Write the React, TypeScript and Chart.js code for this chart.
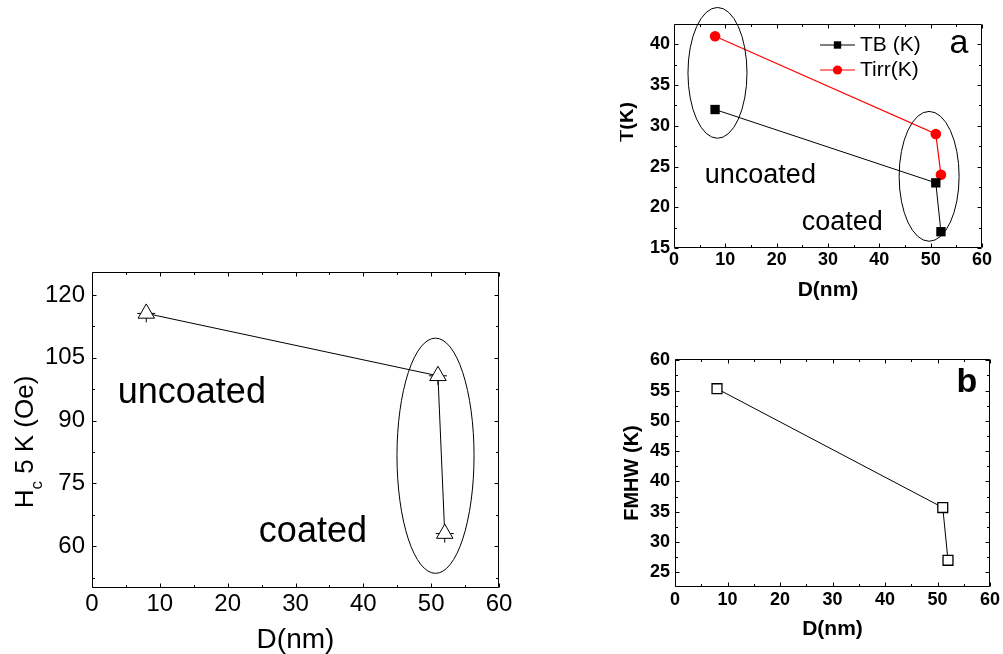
import React, { useEffect, useRef } from 'react';
import { Chart, registerables } from 'chart.js';

Chart.register(...registerables);

const FONT = '"Liberation Sans", Arial, Helvetica, sans-serif';

// ---- data ----
const diameters = [8, 51, 52];
const hcValues = [115.6, 100.7, 63];
const tbValues = [32, 23, 17];
const tirrValues = [41, 29, 24];
const fmhwValues = [55.3, 35.7, 27];

// ---- tick labels ----
const dTicks = [0, 10, 20, 30, 40, 50, 60];
const hcTicks = [60, 75, 90, 105, 120];
const tTicks = [15, 20, 25, 30, 35, 40];
const fmhwTicks = [25, 30, 35, 40, 45, 50, 55, 60];

const pts = (ys: number[]) => diameters.map((x, i) => ({ x, y: ys[i] }));

function minorsOf(ticks: number[], min: number, max: number) {
  const step = ticks[1] - ticks[0];
  const out: number[] = [ticks[0] - step / 2];
  for (let i = 0; i < ticks.length - 1; i++) out.push((ticks[i] + ticks[i + 1]) / 2);
  out.push(ticks[ticks.length - 1] + step / 2);
  return out.filter((v) => v > min && v < max);
}

type Ell = { cx: number; cy: number; rx: number; ry: number };
type Lbl = { text: string; x: number; y: number; font: string; align?: CanvasTextAlign };
type Part = { text: string; font: string; dy: number };
type Deco = {
  xMajor: number[];
  yMajor: number[];
  xMinor: number[];
  yMinor: number[];
  ellipses?: Ell[];
  labels?: Lbl[];
  legend?: { dx: number; dy: number; row: number; lineLen: number; textGap: number; font: string };
  yTitle?: { parts: Part[]; baseX: number; centerY: number };
};

function makeDeco(d: Deco) {
  return {
    id: 'deco',
    afterDatasetsDraw(chart: any) {
      const ctx: CanvasRenderingContext2D = chart.ctx;
      const { left, right, top, bottom } = chart.chartArea;
      const xs = chart.scales.x;
      const ys = chart.scales.y;
      ctx.save();
      ctx.strokeStyle = '#000';
      ctx.fillStyle = '#000';
      ctx.lineWidth = 1;
      // ellipses
      (d.ellipses || []).forEach((e) => {
        const cx = xs.getPixelForValue(e.cx);
        const cy = ys.getPixelForValue(e.cy);
        const rx = Math.abs(xs.getPixelForValue(e.cx + e.rx) - cx);
        const ry = Math.abs(ys.getPixelForValue(e.cy + e.ry) - cy);
        ctx.beginPath();
        ctx.ellipse(cx, cy, rx, ry, 0, 0, Math.PI * 2);
        ctx.stroke();
      });
      // labels
      (d.labels || []).forEach((l) => {
        ctx.font = l.font;
        ctx.textAlign = l.align || 'left';
        ctx.textBaseline = 'alphabetic';
        ctx.fillText(l.text, xs.getPixelForValue(l.x), ys.getPixelForValue(l.y));
      });
      // legend
      if (d.legend) {
        const lg = d.legend;
        chart.data.datasets.forEach((ds: any, i: number) => {
          const y = top + lg.dy + i * lg.row;
          const x0 = left + lg.dx;
          ctx.strokeStyle = ds.borderColor;
          ctx.lineWidth = ds.borderWidth || 1;
          ctx.beginPath();
          ctx.moveTo(x0, y);
          ctx.lineTo(x0 + lg.lineLen, y);
          ctx.stroke();
          const mx = x0 + lg.lineLen / 2;
          ctx.fillStyle = ds.pointBackgroundColor;
          ctx.beginPath();
          if (ds.pointStyle === 'rect') {
            const s = 3.7;
            ctx.rect(mx - s, y - s, 2 * s, 2 * s);
          } else {
            ctx.arc(mx, y, 4.6, 0, Math.PI * 2);
          }
          ctx.fill();
          ctx.fillStyle = '#000';
          ctx.font = lg.font;
          ctx.textAlign = 'left';
          ctx.textBaseline = 'middle';
          ctx.fillText(ds.label, x0 + lg.textGap, y);
        });
      }
      // frame + inward ticks
      ctx.strokeStyle = '#000';
      ctx.lineWidth = 1;
      const L = Math.round(left) + 0.5;
      const R = Math.round(right) - 0.5;
      const T = Math.round(top) + 0.5;
      const B = Math.round(bottom) - 0.5;
      ctx.beginPath();
      ctx.rect(L, T, R - L, B - T);
      ctx.stroke();
      const tick = (vals: number[], len: number) => {
        ctx.beginPath();
        vals.forEach((v) => {
          const p = Math.round(xs.getPixelForValue(v)) + 0.5;
          ctx.moveTo(p, B);
          ctx.lineTo(p, B - len);
          ctx.moveTo(p, T);
          ctx.lineTo(p, T + len);
        });
        ctx.stroke();
      };
      const tickY = (vals: number[], len: number) => {
        ctx.beginPath();
        vals.forEach((v) => {
          const p = Math.round(ys.getPixelForValue(v)) + 0.5;
          ctx.moveTo(L, p);
          ctx.lineTo(L + len, p);
          ctx.moveTo(R, p);
          ctx.lineTo(R - len, p);
        });
        ctx.stroke();
      };
      tick(d.xMajor, 4);
      tick(d.xMinor, 2.5);
      tickY(d.yMajor, 4);
      tickY(d.yMinor, 2.5);
      // rotated y title with parts (subscript)
      if (d.yTitle) {
        const yt = d.yTitle;
        ctx.fillStyle = '#000';
        ctx.textBaseline = 'alphabetic';
        ctx.textAlign = 'left';
        let total = 0;
        yt.parts.forEach((p) => {
          ctx.font = p.font;
          total += ctx.measureText(p.text).width;
        });
        ctx.translate(yt.baseX, yt.centerY);
        ctx.rotate(-Math.PI / 2);
        let x = -total / 2;
        yt.parts.forEach((p) => {
          ctx.font = p.font;
          ctx.fillText(p.text, x, p.dy);
          x += ctx.measureText(p.text).width;
        });
      }
      ctx.restore();
    },
  };
}

type AxisCfg = {
  min: number;
  max: number;
  ticks: number[];
  size: number;
  font: any;
  pad: number;
  title?: any;
};

function makeScales(x: AxisCfg, y: AxisCfg) {
  return {
    x: {
      type: 'linear',
      min: x.min,
      max: x.max,
      afterBuildTicks: (s: any) => {
        s.ticks = x.ticks.map((v) => ({ value: v }));
      },
      afterFit: (s: any) => {
        s.height = x.size;
      },
      grid: { display: false, drawTicks: false },
      border: { display: false },
      ticks: { color: '#000', font: x.font, padding: x.pad, autoSkip: false, maxRotation: 0 },
      title: x.title || { display: false },
    },
    y: {
      type: 'linear',
      min: y.min,
      max: y.max,
      afterBuildTicks: (s: any) => {
        s.ticks = y.ticks.map((v) => ({ value: v }));
      },
      afterFit: (s: any) => {
        s.width = y.size;
      },
      grid: { display: false, drawTicks: false },
      border: { display: false },
      ticks: { color: '#000', font: y.font, padding: y.pad, autoSkip: false },
      title: y.title || { display: false },
    },
  };
}

function hcConfig() {
  const xMin = 0, xMax = 60, yMin = 50, yMax = 125.5;
  return {
    type: 'line',
    data: {
      datasets: [
        {
          label: 'Hc',
          data: pts(hcValues),
          borderColor: '#000',
          borderWidth: 1,
          pointStyle: 'triangle',
          pointRadius: 9.5,
          pointBorderWidth: 1,
          pointBackgroundColor: '#fff',
          pointBorderColor: '#000',
          tension: 0,
          fill: false,
        },
        {
          label: 'Hc cross',
          data: pts(hcValues),
          showLine: false,
          pointStyle: 'cross',
          pointRadius: 9,
          pointBorderWidth: 1,
          pointBorderColor: '#000',
        },
      ],
    },
    options: {
      animation: false,
      responsive: false,
      events: [],
      layout: { padding: { left: 0, top: 22, right: 21, bottom: 0 } },
      plugins: { legend: { display: false }, tooltip: { enabled: false } },
      scales: makeScales(
        {
          min: xMin, max: xMax, ticks: dTicks, size: 66,
          font: { family: FONT, size: 24 }, pad: 2,
          title: { display: true, text: 'D(nm)', color: '#000', font: { family: FONT, size: 28, lineHeight: 1 }, padding: { top: 0, bottom: 0 } },
        },
        { min: yMin, max: yMax, ticks: hcTicks, size: 92, font: { family: FONT, size: 24 }, pad: 7 }
      ),
    },
    plugins: [
      makeDeco({
        xMajor: dTicks,
        yMajor: hcTicks,
        xMinor: minorsOf(dTicks, xMin, xMax),
        yMinor: minorsOf(hcTicks, yMin, yMax),
        ellipses: [{ cx: 50.64, cy: 81.6, rx: 5.68, ry: 28.1 }],
        labels: [
          { text: 'uncoated', x: 3.8, y: 94.2, font: `36px ${FONT}` },
          { text: 'coated', x: 24.6, y: 61.0, font: `36px ${FONT}` },
        ],
        yTitle: {
          baseX: 33,
          centerY: 192,
          parts: [
            { text: 'H', font: `26px ${FONT}`, dy: 0 },
            { text: 'c', font: `17px ${FONT}`, dy: 9 },
            { text: ' 5 K (Oe)', font: `26px ${FONT}`, dy: 0 },
          ],
        },
      }),
    ],
  };
}

function tConfig() {
  const xMin = 0, xMax = 60, yMin = 15, yMax = 42.5;
  return {
    type: 'line',
    data: {
      datasets: [
        {
          label: 'TB (K)',
          data: pts(tbValues),
          borderColor: '#000',
          borderWidth: 1,
          pointStyle: 'rect',
          pointRadius: 6.6,
          pointBorderWidth: 0,
          pointBackgroundColor: '#000',
          pointBorderColor: '#000',
          tension: 0,
          fill: false,
        },
        {
          label: 'Tirr(K)',
          data: pts(tirrValues),
          borderColor: '#ff0000',
          borderWidth: 1.2,
          pointStyle: 'circle',
          pointRadius: 5.3,
          pointBorderWidth: 0,
          pointBackgroundColor: '#ff0000',
          pointBorderColor: '#ff0000',
          tension: 0,
          fill: false,
        },
      ],
    },
    options: {
      animation: false,
      responsive: false,
      events: [],
      layout: { padding: { left: 0, top: 24, right: 21, bottom: 0 } },
      plugins: { legend: { display: false }, tooltip: { enabled: false } },
      scales: makeScales(
        {
          min: xMin, max: xMax, ticks: dTicks, size: 62,
          font: { family: FONT, size: 18, weight: 'bold' }, pad: 1,
          title: { display: true, text: 'D(nm)', color: '#000', font: { family: FONT, size: 21, weight: 'bold', lineHeight: 1 }, padding: { top: 0, bottom: 9.5 } },
        },
        { min: yMin, max: yMax, ticks: tTicks, size: 54, font: { family: FONT, size: 18, weight: 'bold' }, pad: 4 }
      ),
    },
    plugins: [
      makeDeco({
        xMajor: dTicks,
        yMajor: tTicks,
        xMinor: minorsOf(dTicks, xMin, xMax),
        yMinor: minorsOf(tTicks, yMin, yMax),
        ellipses: [
          { cx: 8.47, cy: 36.5, rx: 5.75, ry: 8.03 },
          { cx: 49.7, cy: 23.8, rx: 5.84, ry: 7.97 },
        ],
        labels: [
          { text: 'uncoated', x: 6.0, y: 23.0, font: `27px ${FONT}` },
          { text: 'coated', x: 24.9, y: 17.2, font: `27px ${FONT}` },
          { text: 'a', x: 55.5, y: 39.0, font: `34px ${FONT}`, align: 'center' },
        ],
        legend: { dx: 146, dy: 21, row: 25, lineLen: 35, textGap: 40, font: `21px ${FONT}` },
        yTitle: {
          baseX: 13,
          centerY: 122,
          parts: [{ text: 'T(K)', font: `bold 20px ${FONT}`, dy: 0 }],
        },
      }),
    ],
  };
}

function fmhwConfig() {
  const xMin = 0, xMax = 60, yMin = 22.6, yMax = 60.2;
  return {
    type: 'line',
    data: {
      datasets: [
        {
          label: 'FMHW (K)',
          data: pts(fmhwValues),
          borderColor: '#000',
          borderWidth: 1,
          pointStyle: 'rect',
          pointRadius: 7,
          pointBorderWidth: 1.3,
          pointBackgroundColor: '#fff',
          pointBorderColor: '#000',
          tension: 0,
          fill: false,
        },
      ],
    },
    options: {
      animation: false,
      responsive: false,
      events: [],
      layout: { padding: { left: 0, top: 29, right: 13, bottom: 0 } },
      plugins: { legend: { display: false }, tooltip: { enabled: false } },
      scales: makeScales(
        {
          min: xMin, max: xMax, ticks: dTicks, size: 67,
          font: { family: FONT, size: 18, weight: 'bold' }, pad: 2,
          title: { display: true, text: 'D(nm)', color: '#000', font: { family: FONT, size: 21, weight: 'bold', lineHeight: 1 }, padding: { top: 0, bottom: 14.5 } },
        },
        {
          min: yMin, max: yMax, ticks: fmhwTicks, size: 55, font: { family: FONT, size: 18, weight: 'bold' }, pad: 5,
          title: { display: true, text: 'FMHW (K)', color: '#000', font: { family: FONT, size: 20, weight: 'bold', lineHeight: 1 }, padding: { top: 2.5, bottom: 0 } },
        }
      ),
    },
    plugins: [
      makeDeco({
        xMajor: dTicks,
        yMajor: fmhwTicks,
        xMinor: minorsOf(dTicks, xMin, xMax),
        yMinor: minorsOf(fmhwTicks, yMin, yMax),
        labels: [{ text: 'b', x: 55.6, y: 54.7, font: `bold 34px ${FONT}`, align: 'center' }],
      }),
    ],
  };
}

function ChartBox(props: { left: number; top: number; width: number; height: number; make: () => any }) {
  const ref = useRef<HTMLCanvasElement | null>(null);
  useEffect(() => {
    const chart = new Chart(ref.current as HTMLCanvasElement, props.make());
    return () => chart.destroy();
  }, []);
  const { left, top, width, height } = props;
  return (
    <div style={{ position: 'absolute', left, top, width, height }}>
      <canvas ref={ref} width={width} height={height} style={{ display: 'block', width, height }} />
    </div>
  );
}

export default function App() {
  return (
    <div style={{ position: 'absolute', left: 0, top: 0, width: 1003, height: 654, background: '#fff', overflow: 'hidden' }}>
      <ChartBox left={0} top={250} width={520} height={404} make={hcConfig} />
      <ChartBox left={620} top={0} width={383} height={310} make={tConfig} />
      <ChartBox left={620} top={330} width={383} height={324} make={fmhwConfig} />
    </div>
  );
}
